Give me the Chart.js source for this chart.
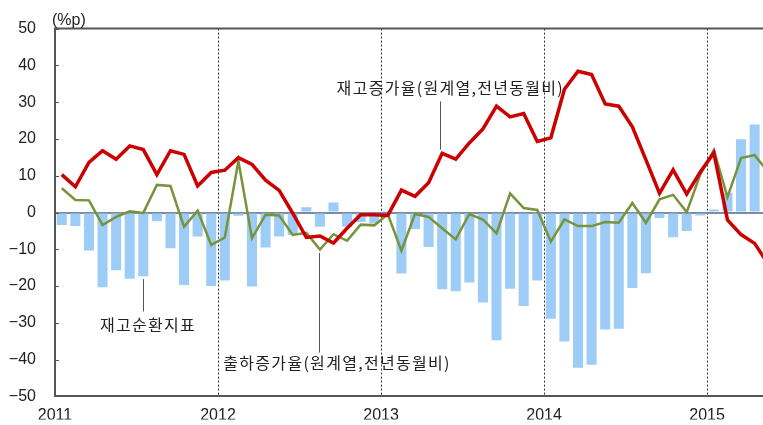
<!DOCTYPE html>
<html>
<head>
<meta charset="utf-8">
<script src="https://cdn.jsdelivr.net/npm/chart.js@4.4.1/dist/chart.umd.min.js"></script>
<style>
  html, body { margin: 0; padding: 0; background: #fff; overflow: hidden; }
  #wrap { width: 800px; height: 425px; }
</style>
</head>
<body>
<div id="wrap"><canvas id="chart" width="800" height="425"></canvas></div>
<script>
// --------------------
// Data (monthly, Jan 2011 - May 2015)
// --------------------
const years = ["2011", "2012", "2013", "2014", "2015"];
const months = [];
years.forEach((y) => {
  for (let m = 1; m <= 12; m++) months.push(y + "-" + String(m).padStart(2, "0"));
});
months.length = 53;

// 재고증가율(원계열,전년동월비)
const inventoryGrowth = [
  10.3, 7.0, 13.6, 16.8, 14.5, 18.1, 17.1, 10.3, 16.8, 15.8, 7.2, 10.9,
  11.5, 14.9, 13.1, 8.8, 6.0, -0.2, -6.8, -6.4, -8.3, -4.3, -0.6, -0.6,
  -0.8, 6.1, 4.4, 8.1, 16.1, 14.5, 18.9, 22.7, 28.9, 26.0, 26.9, 19.3,
  20.3, 33.5, 38.4, 37.5, 29.5, 28.9, 23.3, 14.3, 5.2, 11.6, 5.0, 11.0,
  16.2, -2.0, -6.0, -8.4, -14.0
];

// 출하증가율(원계열,전년동월비)
const shipmentGrowth = [
  6.6, 3.4, 3.3, -3.4, -1.2, 0.3, -0.1, 7.5, 7.2, -3.9, 0.5, -8.8,
  -6.8, 14.0, -7.0, -0.6, -0.8, -6.1, -5.5, -10.1, -5.9, -7.7, -3.3, -3.5,
  -0.5, -10.4, -0.4, -1.2, -4.3, -7.3, -0.4, -1.9, -5.7, 5.2, 1.2, 0.7,
  -7.9, -1.9, -3.7, -3.7, -2.6, -2.8, 2.6, -2.8, 3.6, 4.8, 0.1, 10.3,
  17.0, 4.2, 14.8, 15.6, 11.0
];

// 재고순환지표
const inventoryCycle = [
  -3.4, -3.7, -10.3, -20.3, -15.7, -18.0, -17.3, -2.4, -9.7, -19.7, -6.5, -20.0,
  -18.5, -0.9, -20.1, -9.5, -6.5, -6.1, 1.4, -3.9, 2.7, -3.9, -2.6, -3.0,
  0.5, -16.6, -4.5, -9.4, -20.9, -21.4, -19.0, -24.5, -34.7, -20.7, -25.4, -18.5,
  -28.9, -35.1, -42.2, -41.4, -31.8, -31.6, -20.5, -16.5, -1.5, -6.7, -5.0, -0.8,
  0.8, 5.4, 19.9, 23.9, 24.0
];

// month index -> point
const pts = (arr) => arr.map((v, i) => ({ x: i, y: v }));

// year boundaries sit between Dec and Jan
const yearStarts = years.map((_, i) => i * 12 - 0.5);

// --------------------
// Callout labels (placed in data units)
// --------------------
const notes = [
  { text: "재고증가율(원계열,전년동월비)", tx: 28.6, ty: 34.0, lx: 27.85, ly1: 30.2, ly2: 17.1 },
  { text: "재고순환지표", tx: 6.35, ty: -30.7, lx: 6, ly1: -18.1, ly2: -26.9 },
  { text: "출하증가율(원계열,전년동월비)", tx: 20.26, ty: -40.8, lx: 18.96, ly1: -11.0, ly2: -38.1 }
];

const frame = {
  id: "frame",
  afterDraw(chart) {
    const { ctx, chartArea: a, scales: { x, y } } = chart;
    ctx.save();
    // top border
    ctx.strokeStyle = "#555";
    ctx.lineWidth = 2;
    ctx.beginPath();
    ctx.moveTo(a.left - 1, a.top);
    ctx.lineTo(a.right, a.top);
    ctx.stroke();
    // small inner ticks on the y axis
    ctx.lineWidth = 1;
    y.ticks.forEach((t) => {
      const py = Math.round(y.getPixelForValue(t.value)) + 0.5;
      ctx.beginPath();
      ctx.moveTo(a.left, py);
      ctx.lineTo(a.left + 4, py);
      ctx.stroke();
    });
    // unit
    ctx.fillStyle = "#222";
    ctx.font = '16px "Liberation Sans", Arial, sans-serif';
    ctx.textAlign = "left";
    ctx.textBaseline = "middle";
    ctx.fillText("(%p)", a.left - 3, a.top - 8);
    // callouts
    ctx.font = '16px "Noto Sans CJK KR", sans-serif';
    ctx.letterSpacing = "1.3px";
    ctx.textAlign = "center";
    notes.forEach((n) => {
      const lx = Math.round(x.getPixelForValue(n.lx)) + 0.5;
      ctx.strokeStyle = "#555";
      ctx.beginPath();
      ctx.moveTo(lx, y.getPixelForValue(n.ly1));
      ctx.lineTo(lx, y.getPixelForValue(n.ly2));
      ctx.stroke();
      ctx.fillText(n.text, x.getPixelForValue(n.tx), y.getPixelForValue(n.ty));
    });
    ctx.restore();
  }
};

new Chart(document.getElementById("chart"), {
  type: "bar",
  data: {
    labels: months,
    datasets: [
      {
        type: "line",
        label: "재고증가율(원계열,전년동월비)",
        data: pts(inventoryGrowth),
        borderColor: "#cc0000",
        borderWidth: 3.5,
        pointRadius: 0,
        tension: 0,
        order: 0
      },
      {
        type: "line",
        label: "출하증가율(원계열,전년동월비)",
        data: pts(shipmentGrowth),
        borderColor: "#77933c",
        borderWidth: 2.5,
        pointRadius: 0,
        tension: 0,
        order: 1
      },
      {
        type: "bar",
        label: "재고순환지표",
        data: pts(inventoryCycle),
        backgroundColor: "#9dcdf7",
        barPercentage: 0.74,
        categoryPercentage: 1,
        order: 2
      }
    ]
  },
  options: {
    responsive: false,
    animation: false,
    layout: { padding: { top: 26, right: 25, left: 0, bottom: 0 } },
    plugins: { legend: { display: false }, tooltip: { enabled: false } },
    scales: {
      x: {
        type: "linear",
        offset: false,
        min: -0.5,
        max: 52.5,
        afterBuildTicks: (s) => { s.ticks = yearStarts.map((v) => ({ value: v })); },
        afterFit: (s) => { s.height = 23; },
        ticks: {
          callback: (v) => years[Math.round((v + 0.5) / 12)],
          color: "#222",
          font: { family: '"Liberation Sans", Arial, sans-serif', size: 16 },
          padding: 10,
          maxRotation: 0
        },
        grid: {
          offset: false,
          color: (c) => (c.index === 0 ? "rgba(0,0,0,0)" : "#333"),
          lineWidth: 1,
          drawTicks: false
        },
        border: { color: "#555", width: 2, dash: [2, 2] }
      },
      y: {
        min: -50,
        max: 50,
        afterFit: (s) => { s.width = 55; },
        ticks: {
          stepSize: 10,
          callback: (v) => (v < 0 ? "\u2212" + Math.abs(v) : String(v)),
          color: "#222",
          font: { family: '"Liberation Sans", Arial, sans-serif', size: 16 },
          padding: 19
        },
        grid: {
          color: (c) => (c.tick && c.tick.value === 0 ? "#7a8ba3" : "rgba(0,0,0,0)"),
          lineWidth: 2,
          drawTicks: false
        },
        border: { color: "#555", width: 2 }
      }
    }
  },
  plugins: [frame]
});
</script>
</body>
</html>
